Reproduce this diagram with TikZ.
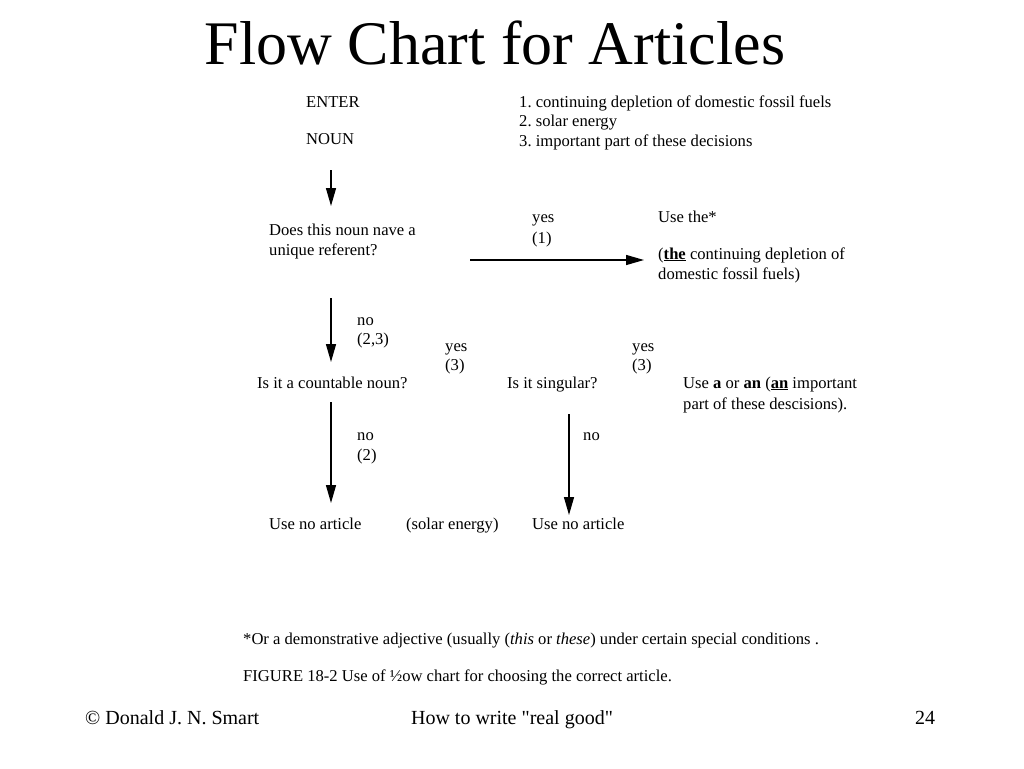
\documentclass[tikz,border=0pt]{standalone}
\usepackage{fontspec}
\setmainfont{Liberation Serif}
\usetikzlibrary{arrows.meta}
\frenchspacing
\tikzset{
  txt/.style={
    anchor=base west,
    inner sep=0pt,
    align=left,
    font=\fontsize{16.6}{20}\selectfont
  },
  footer/.style={
    anchor=base,
    inner sep=0pt,
    font=\fontsize{20}{24}\selectfont
  },
  flow/.style={
    draw,
    line width=1.4pt,
    -{Triangle[length=18pt,width=10pt]}
  }
}

\begin{document}
\begin{tikzpicture}[x=1pt,y=-1pt]
  \useasboundingbox (0,0) rectangle (1024,768);
  \node[anchor=base,inner sep=0pt,font=\fontsize{62}{70}\selectfont] (title) at (495,64) {Flow Chart for Articles};

  % multi-line texts sit on the base line of their last line
  \node[txt] (enter) at (306,107) {ENTER};
  \node[txt] (noun) at (306,144) {NOUN};
  \node[txt,font=\fontsize{16.6}{19.5}\selectfont] (examples) at (519,146) {1. continuing depletion of domestic fossil fuels\\2. solar energy\\3. important part of these decisions};

  \node[txt] (unique) at (269,255) {Does this noun nave a\\unique referent?};
  \node[txt,font=\fontsize{16.6}{21}\selectfont] (yesone) at (532,243) {yes\\(1)};
  \node[txt] (usethe) at (658,222) {Use the*};
  \node[txt] (theex) at (658,279) {(\underline{\textbf{the}} continuing depletion of\\domestic fossil fuels)};

  \node[txt,font=\fontsize{16.6}{19}\selectfont] (notwothree) at (357,344) {no\\(2,3)};
  \node[txt,font=\fontsize{16.6}{19}\selectfont] (yesthreea) at (445,370) {yes\\(3)};
  \node[txt,font=\fontsize{16.6}{19}\selectfont] (yesthreeb) at (632,370) {yes\\(3)};
  \node[txt] (countable) at (257,388) {Is it a countable noun?};
  \node[txt] (singular) at (507,388) {Is it singular?};
  \node[txt,font=\fontsize{16.6}{21}\selectfont] (usea) at (683,409) {Use \textbf{a} or \textbf{an} (\underline{\textbf{an}} important\\part of these descisions).};

  \node[txt] (notwo) at (357,460) {no\\(2)};
  \node[txt] (noone) at (583,440) {no};
  \node[txt] (noarta) at (269,529) {Use no article};
  \node[txt] (solar) at (406,529) {(solar energy)};
  \node[txt] (noartb) at (532,529) {Use no article};

  \node[txt] (star) at (243,644) {*Or a demonstrative adjective (usually (\textit{this} or \textit{these}) under certain special conditions .};
  \node[txt] (figure) at (243,681) {FIGURE 18-2 Use of ½ow chart for choosing the correct article.};

  \node[footer,anchor=base west] (author) at (85,724) {© Donald J. N. Smart};
  \node[footer] (howto) at (512,724) {How to write \textquotedbl real good\textquotedbl};
  \node[footer] (page) at (925,724) {24};

  \coordinate (enterout) at (331,170);
  \coordinate (uniquein) at (331,206);
  \coordinate (uniqueout) at (331,298);
  \coordinate (countin) at (331,362);
  \coordinate (countout) at (331,402);
  \coordinate (noarta in) at (331,503);
  \coordinate (yesout) at (470,260);
  \coordinate (thein) at (644,260);
  \coordinate (singout) at (569,414);
  \coordinate (noartb in) at (569,515);

  \draw[flow] (enterout) -- (uniquein);
  \draw[flow] (yesout) -- (thein);
  \draw[flow] (uniqueout) -- (countin);
  \draw[flow] (countout) -- (noarta in);
  \draw[flow] (singout) -- (noartb in);
\end{tikzpicture}
\end{document}
